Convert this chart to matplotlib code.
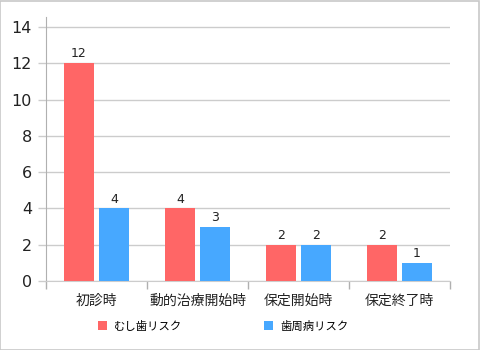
import matplotlib
matplotlib.use("Agg")
import matplotlib.pyplot as plt
import numpy as np

plt.rcParams['font.family'] = ['Noto Sans CJK JP', 'DejaVu Sans']

# chart data
categories = ["初診時", "動的治療開始時", "保定開始時", "保定終了時"]
series_names = ["むし歯リスク", "歯周病リスク"]
caries_risk = [12, 4, 2, 2]
perio_risk = [4, 3, 2, 1]
y_ticks = [0, 2, 4, 6, 8, 10, 12, 14]

red = "#FF6666"
blue = "#47A8FF"
grid_col = "#CCCCCC"
axis_col = "#B0B0B0"
num_font = ["DejaVu Sans"]

fig = plt.figure(figsize=(4.8, 3.5), dpi=100)
ax = fig.add_axes([46 / 480, 1 - 281 / 350, 404 / 480, 264 / 350])

x = np.arange(len(categories))
w = 0.297
off = 0.173
b1 = ax.bar(x - off, caries_risk, w, color=red, label=series_names[0], zorder=3)
b2 = ax.bar(x + off, perio_risk, w, color=blue, label=series_names[1], zorder=3)

# value labels
for bars, vals in ((b1, caries_risk), (b2, perio_risk)):
    for rect, v in zip(bars, vals):
        ax.annotate(str(v), (rect.get_x() + rect.get_width() / 2, v),
                    xytext=(0, 2), textcoords="offset points",
                    ha="center", va="bottom", fontsize=9, color="#222222",
                    family=num_font)

ax.set_xlim(-0.5, len(categories) - 0.5)
ax.set_ylim(0, 14.55)
ax.set_yticks(y_ticks)
ax.set_yticklabels([str(t) for t in y_ticks], fontsize=11.5, color="#222222",
                   family=num_font)
ax.yaxis.grid(True, color=grid_col, linewidth=1, zorder=0)
ax.set_axisbelow(True)

ax.set_xticks(x)
ax.set_xticklabels(categories, fontsize=10, color="#222222")
ax.set_xticks(np.arange(-0.5, len(categories)), minor=True)
ax.tick_params(axis="x", which="major", length=0, pad=9)
ax.tick_params(axis="x", which="minor", length=6, color=axis_col, width=1)
ax.tick_params(axis="y", length=6, color=grid_col, width=1, pad=4)

for s in ("top", "right"):
    ax.spines[s].set_visible(False)
ax.spines["bottom"].set_color(grid_col)
ax.spines["left"].set_color(axis_col)

fig.legend(handles=[b1, b2], loc="center", bbox_to_anchor=(0.465, 1 - 326 / 350),
           ncol=2, frameon=False, fontsize=8.2, handlelength=0.8, handleheight=0.8,
           handletextpad=0.6, columnspacing=7.2)

# outer frame
fig.patches.append(plt.Rectangle((0.001, 0.001), 0.997, 0.997, transform=fig.transFigure,
                                 fill=False, edgecolor="#C8C8C8", linewidth=1.2))

fig.savefig("out.png", dpi=100)
